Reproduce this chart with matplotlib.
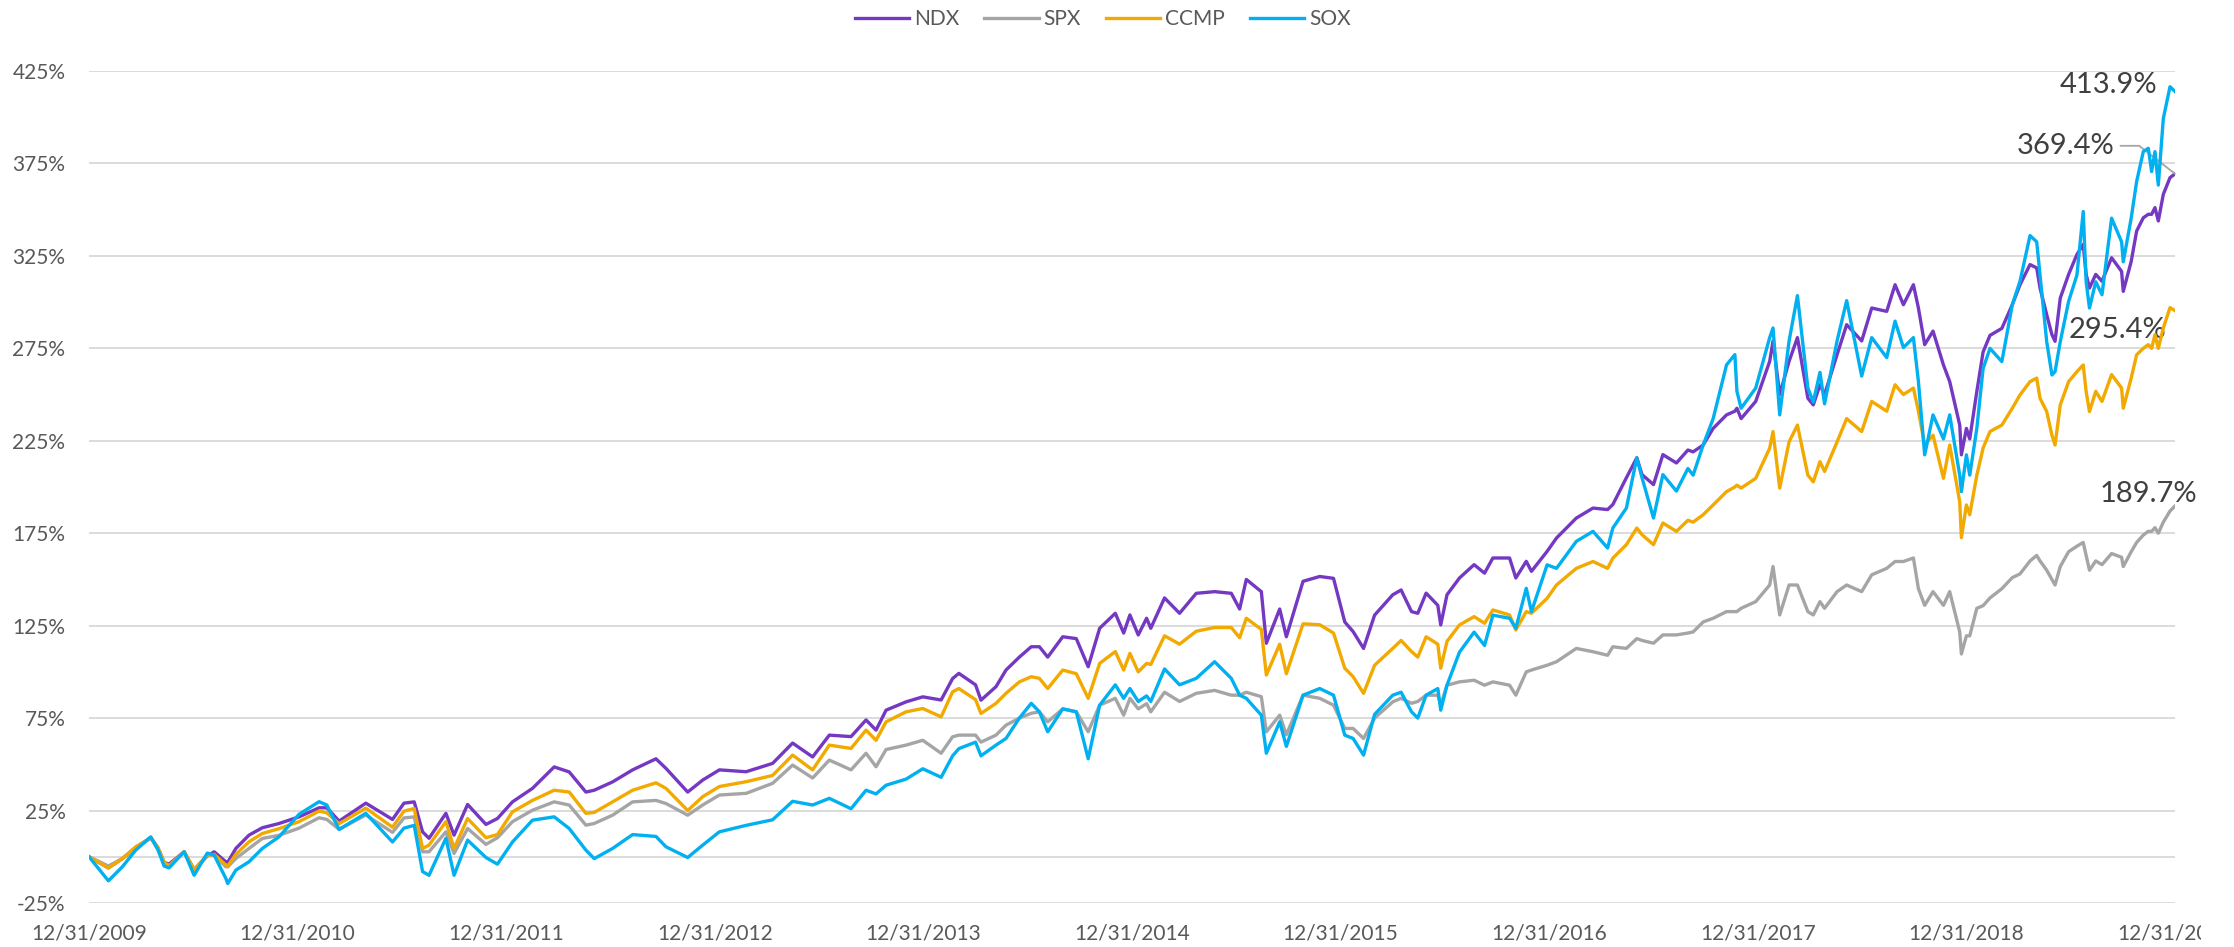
import matplotlib
matplotlib.use('Agg')
import matplotlib.pyplot as plt
from matplotlib.transforms import Bbox
import numpy as np

plt.rcParams['font.family'] = ['Lato', 'DejaVu Sans']

# years elapsed since 12/31/2009
years = [0.000, 0.093, 0.160, 0.224, 0.296, 0.330, 0.360, 0.384, 0.456, 0.504,
         0.567, 0.600, 0.656, 0.665, 0.704, 0.767, 0.831, 0.911, 1.007, 1.103,
         1.140, 1.199, 1.327, 1.455, 1.510, 1.559, 1.599, 1.630, 1.711, 1.750,
         1.815, 1.903, 1.958, 2.030, 2.126, 2.230, 2.302, 2.382, 2.422, 2.510,
         2.606, 2.718, 2.766, 2.870, 2.942, 3.022, 3.150, 3.277, 3.373, 3.469,
         3.549, 3.653, 3.725, 3.773, 3.821, 3.917, 3.997, 4.085, 4.140, 4.170,
         4.250, 4.276, 4.348, 4.396, 4.460, 4.517, 4.556, 4.596, 4.668, 4.733,
         4.790, 4.845, 4.920, 4.960, 4.990, 5.030, 5.070, 5.090, 5.156, 5.228,
         5.308, 5.396, 5.476, 5.516, 5.548, 5.620, 5.644, 5.708, 5.740, 5.820,
         5.900, 5.966, 6.020, 6.060, 6.110, 6.163, 6.250, 6.290, 6.340, 6.370,
         6.410, 6.466, 6.480, 6.510, 6.570, 6.640, 6.690, 6.730, 6.810, 6.840,
         6.890, 6.915, 6.990, 7.035, 7.130, 7.210, 7.280, 7.305, 7.370, 7.420,
         7.445, 7.500, 7.545, 7.610, 7.665, 7.690, 7.738, 7.786, 7.850, 7.890,
         7.900, 7.920, 7.990, 8.057, 8.073, 8.105, 8.150, 8.190, 8.240, 8.266,
         8.298, 8.320, 8.380, 8.426, 8.498, 8.546, 8.618, 8.658, 8.698, 8.746,
         8.770, 8.800, 8.840, 8.890, 8.920, 8.968, 8.976, 9.000, 9.016, 9.050,
         9.080, 9.113, 9.170, 9.220, 9.257, 9.305, 9.337, 9.353, 9.385, 9.410,
         9.425, 9.450, 9.490, 9.530, 9.560, 9.574, 9.590, 9.620, 9.650, 9.696,
         9.744, 9.752, 9.790, 9.816, 9.848, 9.872, 9.888, 9.904, 9.920, 9.944,
         9.976, 10.000]

ndx = [0, -6, -1, 5, 10.3, 5, -3, -4, 2.7, -7,
       0.4, 2.7, -2.7, -3, 4.5, 11.7, 15.7, 18, 21.6, 26.5,
       26.5, 19.3, 29, 20.2, 29, 29.7, 13.5, 10, 23.5, 11.7,
       28.3, 17.5, 20.7, 29.7, 37, 48.6, 45.9, 35, 36, 40.5,
       47, 53, 47.8, 35, 41.5, 47, 46, 50.5, 61.5, 54,
       65.8, 65, 74, 68.5, 79.3, 83.8, 86.5, 84.8, 96.4, 99.2,
       93, 84.7, 92, 101, 108, 113.6, 113.6, 108, 119, 118,
       102.8, 123.6, 131.7, 121, 130.8, 120, 129, 123.6, 140, 131.7,
       142.5, 143.4, 142.5, 134, 150, 143.4, 115.5, 134, 119, 149,
       151.6, 150.6, 127, 121.8, 112.7, 130.7, 141.7, 144.3, 132.6, 131.7,
       142.6, 136, 125.4, 141.7, 150.8, 158, 153.4, 161.6, 161.6, 150.8,
       159.8, 154.4, 165.2, 172.4, 183.2, 188.6, 187.8, 190.5, 205, 215.8,
       206.7, 201.3, 217.5, 213, 220, 219, 222.7, 231.7, 239, 241,
       242.6, 237, 246.3, 268, 279, 250, 268, 280.8, 248, 244.4,
       255.3, 250, 271.6, 287.8, 279, 296.8, 295, 309.4, 298.6, 309.4,
       296.8, 277, 284.3, 266, 257, 233.5, 217.4, 231.7, 226, 251.7,
       273, 282, 285.8, 298.6, 309.4, 320.3, 318.5, 307.6, 293.2, 282.4,
       278.8, 302.2, 315, 325.8, 331.2, 315, 307.6, 315, 311.3, 324,
       316.6, 305.8, 322, 338.4, 345.6, 347.5, 347.5, 351.1, 343.9, 358.3,
       367.3, 369.4]

spx = [0, -5, -1, 4.5, 10.3, 4, -3, -5, 2.7, -7,
       0.9, 0.9, -5.4, -5.5, -0.9, 4.5, 9.9, 11.6, 15.5, 21.1,
       20.2, 14.8, 22.6, 13.2, 21, 21.6, 2.7, 2.7, 13.5, 1.8,
       15.3, 6.7, 10.3, 19, 25.2, 29.7, 28, 17.1, 18, 22.5,
       29.7, 30.5, 28.8, 22.5, 28, 33.4, 34.3, 39.7, 49.6, 42.6,
       52.3, 47, 56, 48.7, 58, 60.4, 63, 56, 64.9, 65.8,
       65.8, 62, 65.8, 71.2, 75, 77.6, 78.4, 73, 80, 78.4,
       67.6, 82, 85.7, 76.6, 85.7, 80, 82.8, 78.4, 89, 84,
       88.4, 90, 87.4, 87.4, 89, 86.6, 67.6, 76.6, 66, 87.4,
       85.7, 82, 69.4, 69.4, 64, 75, 83.8, 85.7, 83, 84,
       87.4, 87.4, 82, 92.8, 94.6, 95.5, 92.8, 94.6, 92.8, 87.4,
       100, 101, 103.6, 105.5, 112.7, 110.9, 109, 113.6, 112.7, 118,
       117, 115.5, 120, 120, 121, 121.6, 127, 129, 132.6, 132.6,
       132.6, 134.4, 138, 147, 157, 130.8, 147, 147, 132.6, 130.8,
       138, 134.4, 143.4, 147, 143.4, 152.5, 156, 159.7, 159.7, 161.6,
       145, 136, 143.4, 136, 143.4, 121.6, 109.7, 119.5, 119.5, 134.4,
       135.8, 140, 145, 151, 153, 160, 163, 160, 155, 150,
       147, 157, 165, 168, 170, 163, 155, 160, 158, 164,
       162, 157, 165, 170, 174, 176, 176, 178, 175, 181,
       187, 189.7]

ccmp = [0, -6, -1, 5.4, 10.3, 5, -3, -5, 2.7, -7,
        0.9, 1.3, -4.5, -5, 1.3, 8.1, 12.6, 15.2, 19, 24.7,
        23.8, 17.9, 26.3, 16, 24.7, 26.1, 4.5, 6.3, 19, 4.5,
        20.7, 10.3, 12, 24.3, 30.5, 36, 35, 23.5, 24, 29.7,
        36, 40, 37, 25, 32.5, 38, 40.6, 44, 55, 47,
        60.4, 58.6, 68.5, 63, 73, 78.4, 80.2, 75.7, 89.2, 91,
        85, 77.5, 83, 88.4, 94.6, 97.4, 96.5, 91, 101, 99,
        85.7, 104.6, 111, 101, 110, 100, 104.6, 104, 119.5, 115,
        122, 124, 124, 118.5, 129, 123, 98.3, 115, 99, 126,
        125.5, 121, 102, 97.4, 88.4, 103.6, 112.7, 117, 111, 108,
        119, 115, 102, 116.5, 125.4, 129.9, 126.3, 133.5, 130.8, 122.7,
        132.6, 131.7, 139.8, 147, 156, 159.7, 156, 161.5, 168.8, 177.8,
        174.2, 168.8, 180.5, 176, 182, 181, 185, 190.3, 197.5, 200,
        201, 199.4, 204.7, 221, 230, 199.4, 224.4, 233.5, 206.4, 202.8,
        213.7, 208.4, 224.4, 237, 230, 246.3, 241, 255.3, 250, 253.5,
        241, 222.7, 228, 204.7, 222.7, 192, 172.6, 190.3, 185, 206.4,
        221, 230, 233.5, 242.6, 249.8, 257, 258.9, 248, 240.8, 228,
        222.7, 244.4, 257, 262.4, 266, 251.7, 240.8, 251.7, 246.3, 260.8,
        253.5, 242.6, 258.9, 271.5, 275, 277, 275, 282.4, 275, 286,
        297, 295.4]

sox = [0, -13, -5.4, 3.6, 10.8, 4, -5, -6, 2.7, -10,
       2, 0.9, -11.7, -14.5, -7.2, -2.7, 4.5, 10.8, 23, 29.8,
       28, 14.8, 23.5, 8, 15.5, 17, -8, -10, 10, -10,
       9, -0.4, -4, 8, 19.8, 21.6, 15.3, 3.6, -1, 4.5,
       12, 11, 5.4, -0.4, 6.3, 13.5, 17, 20, 30, 28,
       31.6, 26, 36, 34, 38.7, 42, 47.6, 43, 54.6, 58.5,
       62, 54.6, 60.4, 64, 75, 83, 78.4, 67.6, 80, 78.4,
       53, 82, 93, 85.7, 91, 84, 87, 84, 101.6, 93,
       96.5, 105.5, 96.5, 87.4, 85.7, 76.6, 56, 73, 59.7, 87.4,
       91, 87.4, 65.8, 64, 55, 77, 87.4, 89, 78.4, 75,
       87.4, 91, 79.3, 92.8, 110.7, 121.5, 114.3, 130.7, 129, 123.6,
       145.2, 132.6, 157.9, 156, 170.6, 176, 167, 177.8, 188.6, 215.8,
       205, 183.2, 206.7, 197.8, 210, 206.4, 222.7, 237, 266, 271.6,
       251.7, 242.6, 253.5, 280.8, 286, 239, 279, 303.5, 253.5, 246,
       262, 245, 279, 300.8, 260, 280.8, 270, 289.7, 275.4, 280.8,
       257, 217.4, 239, 226, 239, 206.4, 197.5, 217.4, 206.4, 231.7,
       264, 275, 267.8, 298.6, 311.3, 336, 332.6, 314.7, 278.6, 260.6,
       262.4, 278.6, 300.4, 314.7, 349, 311, 296.8, 311, 304, 345.4,
       332.6, 321.8, 345.4, 365.2, 381.4, 383.2, 370.6, 381.4, 363.3, 399.3,
       416.5, 413.9]

series_names = ['NDX', 'SPX', 'CCMP', 'SOX']
series_colors = ['#7438C2', '#A5A5A5', '#F2A900', '#00B0F0']
tick_labels = ['12/31/%d' % y for y in range(2009, 2020)]
y_ticks = list(range(-25, 426, 50))

W, H = 2234, 947
fig = plt.figure(figsize=(W / 100, H / 100), dpi=100)
ax = fig.add_axes([89 / W, 1 - 903 / H, (2175 - 89) / W, (903 - 71) / H])

data = [ndx, spx, ccmp, sox]
# draw order: SPX behind, then CCMP, NDX, SOX on top
order = [1, 2, 0, 3]
lines = {}
for i in order:
    ln, = ax.plot(years, data[i], color=series_colors[i], lw=2.4,
                  label=series_names[i], solid_joinstyle='round', zorder=3 + i)
    lines[i] = ln

ax.set_xlim(0, 10)
ax.set_ylim(-25, 425)
ax.set_yticks(y_ticks)
ax.set_yticklabels(['%d%%' % v for v in y_ticks])
ax.set_xticks(range(11))
ax.set_xticklabels(tick_labels)
ax.grid(axis='y', color='#D9D9D9', lw=1.3)
ax.axhline(0, color='#D9D9D9', lw=1.3, zorder=1)
ax.set_axisbelow(True)
for s in ax.spines.values():
    s.set_visible(False)
ax.tick_params(axis='both', length=0, labelsize=15, labelcolor='#595959')
ax.tick_params(axis='y', pad=17)
ax.tick_params(axis='x', pad=15)

# last x label is cut off at the chart edge, like the original
clip = Bbox.from_extents(0, 0, 2201, H)
for lab in ax.get_xticklabels():
    lab.set_clip_box(clip)
    lab.set_clip_on(True)

# end-of-line value labels
ann_style = dict(textcoords='offset pixels', ha='center', va='center',
                 fontsize=21, color='#404040', annotation_clip=False)
ax.annotate('%.1f%%' % sox[-1], xy=(years[-1], sox[-1]), xytext=(-67, 7), **ann_style)
ax.annotate('%.1f%%' % ndx[-1], xy=(years[-1], ndx[-1]), xytext=(-109, 28),
            arrowprops=dict(arrowstyle='-', color='#A6A6A6', lw=1.3, shrinkA=2, shrinkB=0,
                            connectionstyle='angle,angleA=0,angleB=142,rad=0'),
            **ann_style)
ax.annotate('%.1f%%' % ccmp[-1], xy=(years[-1], ccmp[-1]), xytext=(-57, -19), **ann_style)
ax.annotate('%.1f%%' % spx[-1], xy=(years[-1], spx[-1]), xytext=(-27, 12), **ann_style)

handles = [lines[i] for i in range(4)]
fig.legend(handles, series_names, loc='center', bbox_to_anchor=(1103 / W, 1 - 19 / H),
           ncol=4, frameon=False, fontsize=15, handlelength=2.6, handletextpad=0.25,
           columnspacing=1.2, labelcolor='#595959')

fig.savefig('out.png', dpi=100, facecolor='white')
